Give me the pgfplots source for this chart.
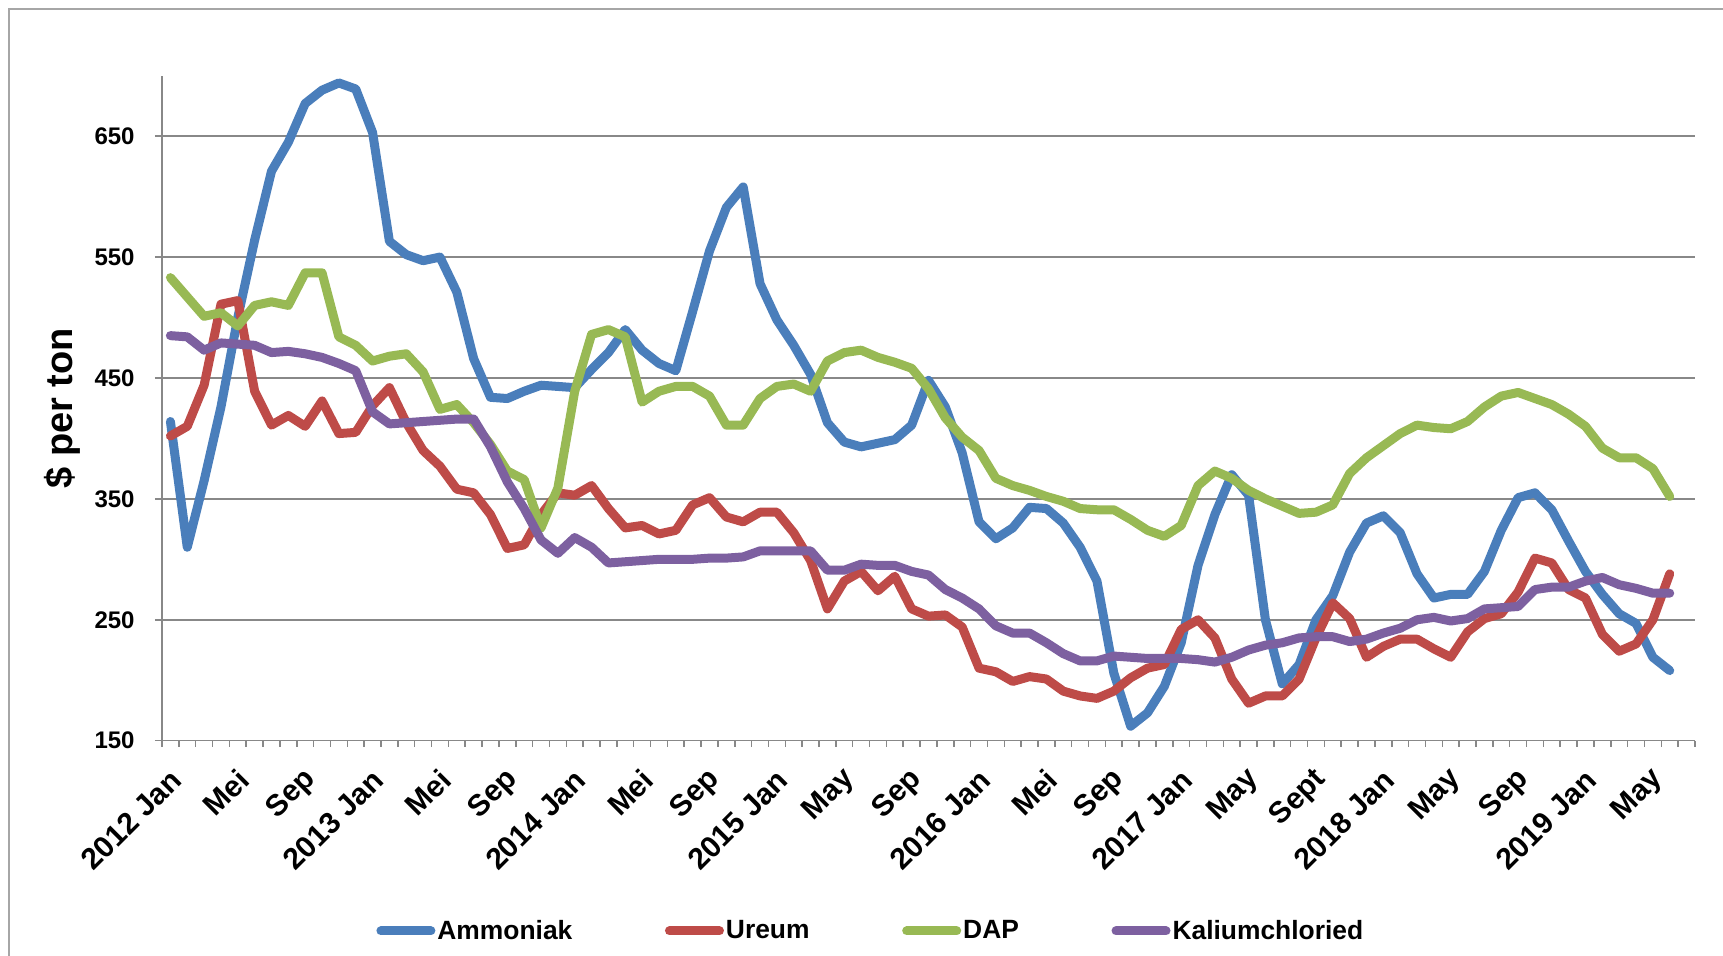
\documentclass[border=0pt]{standalone}
\usepackage{pgfplots}
\pgfplotsset{compat=1.18}
\usepackage{pgfplotstable}
\usepackage{fontspec}
\setmainfont{Liberation Sans}
\definecolor{cA}{HTML}{4A7EBB}
\definecolor{cU}{HTML}{BE4B48}
\definecolor{cD}{HTML}{98B954}
\definecolor{cK}{HTML}{7D60A0}
\definecolor{gridc}{HTML}{888888}
\definecolor{framec}{HTML}{A6A6A6}

\pgfplotstableread{
x a u d k
0 414 402 533 485
1 310 410 517 484
2 365 444 501 473
3 426 511 504 479
4 500 514 493 478
5 564 439 510 477
6 621 411 513 471
7 645 419 510 472
8 677 410 537 470
9 688 431 537 467
10 694 404 484 462
11 689 405 477 456
12 653 427 464 422
13 563 442 468 412
14 552 413 470 413
15 547 390 455 414
16 550 377 424 415
17 521 358 428 416
18 466 355 413 416
19 434 337 395 393
20 433 309 373 364
21 439 312 366 342
22 444 337 326 316
23 443 355 359 305
24 442 353 439 318
25 457 361 486 310
26 471 342 490 297
27 490 326 484 298
28 473 328 430 299
29 462 321 439 300
30 456 324 443 300
31 505 345 443 300
32 555 351 435 301
33 591 335 411 301
34 608 331 411 302
35 528 339 433 307
36 498 339 443 307
37 477 322 445 307
38 453 299 439 307
39 413 259 464 291
40 397 282 471 291
41 393 290 473 296
42 396 274 467 295
43 399 286 463 295
44 411 259 458 290
45 448 253 441 287
46 426 254 417 275
47 388 244 401 268
48 331 210 390 259
49 317 207 367 245
50 326 199 361 239
51 343 203 357 239
52 342 201 352 231
53 330 191 348 222
54 310 187 342 216
55 282 185 341 216
56 206 191 341 220
57 162 202 333 219
58 173 210 324 218
59 195 213 319 218
60 231 242 328 218
61 295 250 361 217
62 337 235 373 215
63 370 201 367 219
64 353 181 357 225
65 250 187 350 229
66 197 187 344 231
67 213 201 338 235
68 250 235 339 236
69 270 264 345 236
70 306 251 371 232
71 330 219 384 234
72 336 228 394 239
73 322 234 404 243
74 288 234 411 250
75 268 226 409 252
76 271 219 408 249
77 271 240 414 251
78 290 251 426 259
79 324 255 435 260
80 351 273 438 261
81 355 301 433 275
82 341 297 428 277
83 315 275 420 277
84 290 268 410 282
85 271 238 392 285
86 255 224 384 279
87 247 230 384 276
88 219 250 375 272
89 208 288 352 272
}\datatable

\begin{document}
\begin{tikzpicture}
\useasboundingbox (0,0) rectangle (861.5pt,478pt);
\draw[framec, line width=1.3pt] (4.5pt,0) -- (4.5pt,473.5pt) -- (861.5pt,473.5pt);
\begin{axis}[
  at={(81pt,107.65pt)}, anchor=south west,
  scale only axis, width=766.5pt, height=332.5pt,
  xmin=-0.5, xmax=90.5, ymin=150, ymax=700,
  axis x line*=bottom, axis y line*=left,
  axis line style={gridc, line width=0.8pt, -},
  xtick={0,4,...,88},
  xticklabels={2012 Jan,Mei,Sep,2013 Jan,Mei,Sep,2014 Jan,Mei,Sep,2015 Jan,May,Sep,2016 Jan,Mei,Sep,2017 Jan,May,Sept,2018 Jan,May,Sep,2019 Jan,May},
  major x tick style={draw=none},
  minor xtick={-0.5,0.5,...,90.5},
  minor x tick style={gridc, line width=0.8pt},
  minor tick length=3pt,
  ytick={150,250,...,650},
  major tick length=3.5pt,
  tick align=outside,
  y tick style={gridc, line width=0.8pt},
  ymajorgrids, grid style={gridc, line width=0.8pt},
  /pgf/number format/assume math mode=true,
  yticklabel style={font=\fontsize{12}{12}\selectfont\bfseries, anchor=east, inner sep=0pt, xshift=-10pt},
  xticklabel style={xshift=3pt, yshift=-13.5pt, rotate=45, anchor=east, inner sep=0pt, font=\fontsize{15}{15}\selectfont\bfseries},
  ylabel={\$ per ton},
  ylabel style={at={([xshift=-50pt]axis description cs:0,0.5)}, anchor=center, font=\fontsize{19}{19}\selectfont\bfseries},
  legend columns=4,
  legend style={draw=none, fill=none, inner sep=0pt, at={([xshift=107pt,yshift=-95.15pt]axis description cs:0,0)}, anchor=west, font=\fontsize{13.2}{13.2}\selectfont\bfseries, nodes={inner sep=1pt}, /tikz/every even column/.append style={column sep=45.3pt}},
  legend image code/.code={\draw[#1, line cap=round] (0pt,0pt) -- (25pt,0pt);},
]
\addplot[cA, line width=4.5pt, line join=round, line cap=round] table[x=x,y=a]{\datatable};
\addlegendentry{Ammoniak}
\addplot[cU, line width=4.5pt, line join=round, line cap=round] table[x=x,y=u]{\datatable};
\addlegendentry{Ureum}
\addplot[cD, line width=4.5pt, line join=round, line cap=round] table[x=x,y=d]{\datatable};
\addlegendentry{DAP}
\addplot[cK, line width=4.5pt, line join=round, line cap=round] table[x=x,y=k]{\datatable};
\addlegendentry{Kaliumchloried}
\end{axis}
\end{tikzpicture}
\end{document}
